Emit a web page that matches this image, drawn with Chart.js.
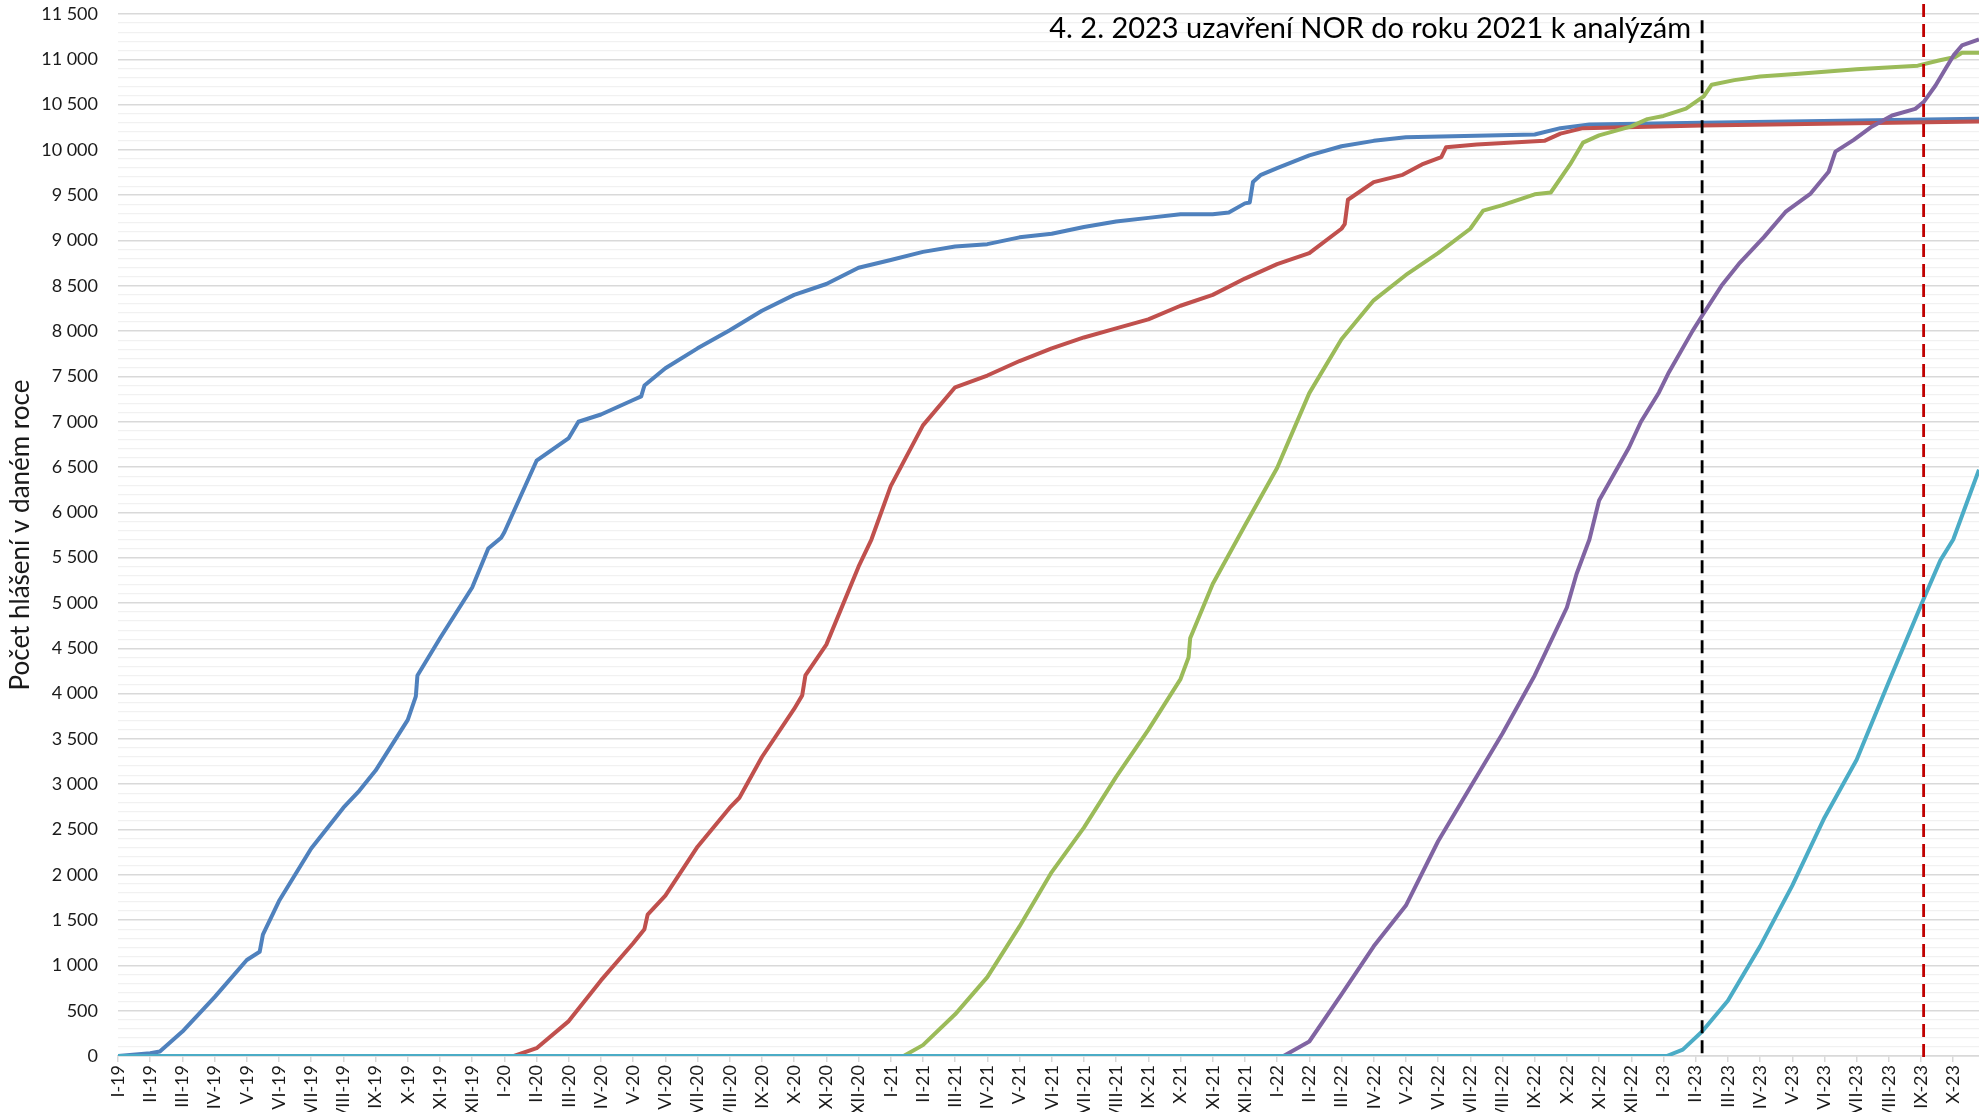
<!DOCTYPE html>
<html lang="cs">
<head>
<meta charset="UTF-8">
<title>Počet hlášení v daném roce</title>
<script src="https://cdn.jsdelivr.net/npm/chart.js@4.4.1/dist/chart.umd.min.js"></script>
<style>
  html, body { margin: 0; padding: 0; background: #fff; }
  #wrap { width: 1979px; height: 1112px; position: relative; overflow: hidden; }
</style>
</head>
<body>
<div id="wrap"><canvas id="reportsChart"></canvas></div>
<script>
// Popisky osy X: římský měsíc + rok (I-19 .. X-23)
const romanMonths = ['I', 'II', 'III', 'IV', 'V', 'VI', 'VII', 'VIII', 'IX', 'X', 'XI', 'XII'];
const yearSuffixes = ['19', '20', '21', '22', '23'];
const monthCount = 58;
const monthLabels = [];
yearSuffixes.forEach(yr => romanMonths.forEach(m => monthLabels.push(m + '-' + yr)));
monthLabels.length = monthCount;

// Osa Y
const yMax = 11500;
const yMajorStep = 500;
const yMinorStep = 100;

// Kumulativní počet hlášení; x = měsíce od I-19
const x2019 = [0, 1, 1.3, 2, 3, 4, 4.4, 4.5, 5, 6, 7, 7.5, 8, 9, 9.25, 9.3, 10, 11, 11.5, 11.9,
  12, 13, 14, 14.3, 15, 16, 16.25, 16.35, 17, 18, 19, 20, 21, 22, 23, 24, 25, 26, 27, 28,
  29, 30, 31, 32, 33, 34, 34.5, 35, 35.15, 35.25, 35.5, 36, 37, 38, 39, 40, 44, 44.8, 45.7, 49.2, 57.8];
const y2019 = [0, 30, 50, 270, 650, 1060, 1150, 1340, 1710, 2290, 2740, 2930, 3150, 3710, 3970, 4200, 4610, 5170, 5600, 5720,
  5780, 6570, 6820, 7000, 7080, 7240, 7280, 7400, 7590, 7810, 8010, 8225, 8400, 8520, 8700, 8785, 8875, 8935, 8960, 9035,
  9075, 9150, 9210, 9250, 9290, 9290, 9310, 9410, 9420, 9645, 9725, 9800, 9940, 10040, 10100, 10140, 10170, 10240, 10280, 10300, 10343];

const x2020 = [0, 12.3, 13, 14, 15, 16, 16.35, 16.45, 17, 18, 19, 19.3, 20, 21, 21.25, 21.35, 22, 23, 23.4, 24,
  25, 26, 27, 28, 29, 30, 31, 32, 33, 34, 35, 36, 37, 38, 38.1, 38.2, 39, 39.9, 40.5, 41.1,
  41.25, 42.2, 44.3, 44.8, 45.5, 49.2, 57.8];
const y2020 = [0, 0, 86, 385, 834, 1245, 1400, 1560, 1770, 2310, 2740, 2850, 3300, 3830, 3980, 4200, 4540, 5400, 5700, 6290,
  6960, 7380, 7510, 7670, 7810, 7930, 8030, 8130, 8280, 8400, 8580, 8740, 8860, 9130, 9180, 9450, 9645, 9725, 9840, 9920,
  10030, 10060, 10100, 10180, 10240, 10270, 10313];

const x2021 = [0, 24.4, 25, 26, 27, 28, 29, 30, 31, 32, 33, 33.25, 33.3, 34, 35, 36, 37, 38, 39, 40,
  41, 42, 42.4, 43, 44, 44.5, 45.1, 45.5, 46, 47, 47.5, 48, 48.7, 49.25, 49.5, 50.2, 51, 52.2, 54, 55.9,
  56.55, 57.06, 57.27, 57.8];
const y2021 = [0, 0, 120, 460, 870, 1430, 2030, 2520, 3080, 3600, 4160, 4400, 4610, 5210, 5855, 6490, 7316, 7910, 8340, 8620,
  8860, 9130, 9330, 9390, 9510, 9530, 9840, 10080, 10160, 10260, 10340, 10375, 10455, 10590, 10720, 10770, 10810, 10840, 10890, 10930,
  10987, 11025, 11072, 11072];

const x2022 = [0, 36.2, 37, 38, 39, 40, 41, 42, 43, 44, 45, 45.3, 45.7, 46, 46.93, 47.3, 47.86, 48.17, 48.9, 49.2,
  49.8, 50.34, 51.12, 51.79, 52.57, 53.13, 53.34, 53.91, 54.48, 55.1, 55.82, 56.08, 56.45, 56.76, 57.01, 57.27, 57.8];
const y2022 = [0, 0, 160, 680, 1210, 1660, 2370, 2965, 3560, 4200, 4950, 5320, 5700, 6130, 6716, 7000, 7323, 7547, 8000, 8170,
  8500, 8741, 9037, 9315, 9518, 9759, 9981, 10111, 10259, 10380, 10453, 10527, 10711, 10895, 11043, 11153, 11219];

const x2023 = [0, 48.1, 48.6, 49.2, 50, 51, 52, 53, 54, 55, 56.1, 56.6, 57, 57.8];
const y2023 = [0, 0, 70, 270, 610, 1210, 1880, 2630, 3270, 4130, 5060, 5470, 5700, 6470];

// Svislé čáry: uzavření NOR (4. 2. 2023) a aktuální stav
const closureMonth = 49.2;
const closureText = '4. 2. 2023 uzavření NOR do roku 2021 k analýzám';
const currentMonth = 56.08;

const FONT = 'Lato, "Noto Sans", sans-serif';
const TEXT_COLOR = '#1a1a1a';

const seriesList = [
  { label: '2019', xs: x2019, ys: y2019, color: '#4F81BD' },
  { label: '2020', xs: x2020, ys: y2020, color: '#C0504D' },
  { label: '2021', xs: x2021, ys: y2021, color: '#9BBB59' },
  { label: '2022', xs: x2022, ys: y2022, color: '#8064A2' },
  { label: '2023', xs: x2023, ys: y2023, color: '#4BACC6' }
];

function formatThousands(v) {
  return String(v).replace(/\B(?=(\d{3})+(?!\d))/g, ' ');
}

// Čárkované svislé čáry a popisek
const markerLinesPlugin = {
  id: 'markerLines',
  afterDatasetsDraw(chart) {
    const { ctx, scales: { x, y } } = chart;
    const drawDashed = (month, topValue, color) => {
      const px = x.getPixelForValue(month);
      ctx.beginPath();
      ctx.setLineDash([13, 7]);
      ctx.lineWidth = 2.8;
      ctx.strokeStyle = color;
      ctx.moveTo(px, y.getPixelForValue(topValue));
      ctx.lineTo(px, y.getPixelForValue(-20));
      ctx.stroke();
      return px;
    };
    ctx.save();
    const closureX = drawDashed(closureMonth, 11430, '#000000');
    drawDashed(currentMonth, 11610, '#C00000');

    ctx.setLineDash([]);
    ctx.font = '29px ' + FONT;
    ctx.fillStyle = '#000';
    ctx.textAlign = 'right';
    ctx.textBaseline = 'alphabetic';
    ctx.fillText(closureText, closureX - 11, y.top + 24);
    ctx.restore();
  }
};

const ctx = document.getElementById('reportsChart').getContext('2d');
new Chart(ctx, {
  type: 'line',
  data: {
    datasets: seriesList.map((s, i) => ({
      label: s.label,
      data: s.xs.map((xv, j) => ({ x: xv, y: s.ys[j] })),
      borderColor: s.color,
      backgroundColor: s.color,
      borderWidth: 4,
      pointRadius: 0,
      tension: 0,
      fill: false,
      borderJoinStyle: 'round',
      order: seriesList.length - i   // novější roky nahoře
    }))
  },
  options: {
    responsive: true,
    maintainAspectRatio: false,
    animation: false,
    layout: { padding: { top: 14, right: 0, bottom: 0, left: 0 } },
    plugins: {
      legend: { display: false },
      tooltip: { enabled: false }
    },
    scales: {
      x: {
        type: 'linear',
        min: 0,
        max: 57.8,
        afterBuildTicks: scale => {
          scale.ticks = monthLabels.map((_, i) => ({ value: i }));
        },
        afterFit: scale => {
          scale.height = 56;
          scale.paddingLeft = 0;
          scale.paddingRight = 0;
        },
        border: { color: '#d9d9d9', width: 1.5 },
        grid: {
          drawOnChartArea: false,
          drawTicks: true,
          tickLength: 6,
          color: '#d9d9d9',
          lineWidth: 1.5
        },
        ticks: {
          autoSkip: false,
          minRotation: 90,
          maxRotation: 90,
          padding: 3,
          color: TEXT_COLOR,
          font: { family: FONT, size: 18 },
          callback: v => monthLabels[v]
        }
      },
      y: {
        min: 0,
        max: yMax,
        afterBuildTicks: scale => {
          const ticks = [];
          for (let v = 0; v <= yMax; v += yMinorStep) ticks.push({ value: v });
          scale.ticks = ticks;
        },
        afterFit: scale => {
          scale.width = 118;
          scale.paddingTop = 0;
          scale.paddingBottom = 0;
        },
        border: { display: false },
        grid: {
          drawTicks: false,
          color: c => (c.tick.value % yMajorStep === 0 ? '#d9d9d9' : '#f1f1f1'),
          lineWidth: c => (c.tick.value % yMajorStep === 0 ? 1.5 : 1.2)
        },
        ticks: {
          autoSkip: false,
          padding: 20,
          color: TEXT_COLOR,
          font: { family: FONT, size: 18 },
          callback: v => (v % yMajorStep === 0 ? formatThousands(v) : '')
        },
        title: {
          display: true,
          text: 'Počet hlášení v daném roce',
          color: TEXT_COLOR,
          font: { family: FONT, size: 26 },
          padding: { top: 5, bottom: 0 }
        }
      }
    }
  },
  plugins: [markerLinesPlugin]
});
</script>
</body>
</html>
